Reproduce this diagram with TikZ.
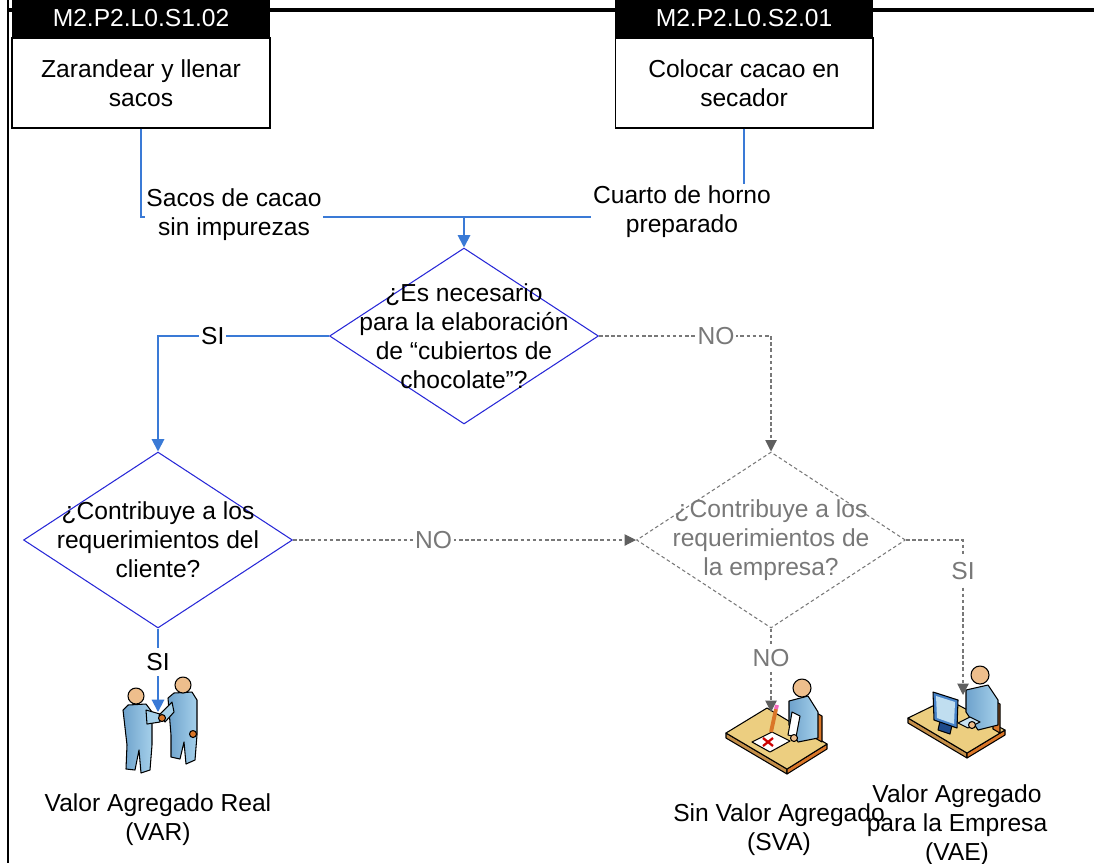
\documentclass[tikz,border=0pt]{standalone}
\usepackage{fontspec}
\setmainfont{Liberation Sans}
\usepackage{tikz}
\usetikzlibrary{positioning,arrows.meta,shapes,calc}

\definecolor{azul}{RGB}{58,122,214}
\definecolor{azulrombo}{RGB}{40,40,215}
\definecolor{gris}{RGB}{120,120,120}
\definecolor{grisosc}{RGB}{95,95,95}
\definecolor{piel}{RGB}{238,190,140}
\definecolor{ropa}{RGB}{165,208,234}
\definecolor{ropaosc}{RGB}{110,162,204}
\definecolor{mesa}{RGB}{236,206,128}
\definecolor{mesaosc}{RGB}{196,142,72}
\definecolor{naranja}{RGB}{218,118,40}
\definecolor{pantalla}{RGB}{70,130,200}
\definecolor{pie}{RGB}{30,75,140}

\tikzset{
  txt/.style={font=\fontsize{14}{16.5}\selectfont, align=center},
  cab/.style={txt, fill=black, text=white, minimum width=5.16cm, minimum height=0.76cm, inner sep=0pt},
  actividad/.style={txt, draw=black, line width=0.6pt, fill=white, minimum width=5.16cm, minimum height=1.8cm, inner sep=0pt},
  decision/.style={diamond, draw=azulrombo, line width=0.6pt, minimum width=5.38cm, minimum height=3.52cm, inner sep=0pt},
  decisiongris/.style={decision, draw=gris, dash pattern=on 2pt off 1.5pt},
  linea/.style={draw=azul, line width=1.1pt},
  flujo/.style={linea, -{Triangle[length=7pt,width=7pt]}},
  flujogris/.style={draw=gris, line width=0.6pt, dash pattern=on 2pt off 1.5pt, -{Triangle[length=6.5pt,width=6.5pt,color=grisosc]}},
  etiq/.style={txt, fill=white, inner sep=1pt},
  etiqgris/.style={etiq, text=gris},
  contorno/.style={draw=black, line width=0.6pt, line join=round},
  tela/.style={contorno, left color=ropaosc, right color=ropa},
}

\begin{document}
\begin{tikzpicture}[x=0.02cm, y=-0.02cm]
  \useasboundingbox (0,0) rectangle (1094,863);

  % Marco
  \draw[line width=1.5pt] (8,0) -- (8,863);
  \draw[line width=2pt] (8,10) -- (1094,10);

  % Actividades
  \node[actividad] (act1) at (141,83) {Zarandear y llenar\\sacos};
  \node[cab, above=0pt of act1] (act1cab) {M2.P2.L0.S1.02};
  \node[actividad] (act2) at (744,83) {Colocar cacao en\\secador};
  \node[cab, above=0pt of act2] (act2cab) {M2.P2.L0.S2.01};

  % Decisiones
  \node[decision] (d1) at (464,336) {};
  \node[txt] (d1t) at (d1) {¿Es necesario\\para la elaboración\\de “cubiertos de\\chocolate”?};
  \node[decision] (d2) at (158,540) {};
  \node[txt] (d2t) at (d2) {¿Contribuye a los\\requerimientos del\\cliente?};
  \node[decisiongris] (d3) at (771,540) {};
  \node[txt, text=gris] (d3t) at (d3) {¿Contribuye a los\\requerimientos de\\la empresa?};

  % Iconos: VAR (apreton de manos)
  \draw[tela] (123,710) -- (128,705) -- (146,704) -- (152,712) -- (152,745) -- (150,770) -- (141,773) -- (139,750) -- (135,770) -- (126,769) -- (127,745) -- cycle;
  \draw[contorno, fill=ropa] (146,710) -- (160,714) -- (160,722) -- (147,724) -- cycle;
  \draw[contorno, fill=piel] (136,696) circle (8);
  \draw[tela] (168,698) -- (174,693) -- (192,692) -- (197,700) -- (197,735) -- (195,760) -- (186,764) -- (184,742) -- (180,759) -- (171,757) -- (171,735) -- cycle;
  \draw[contorno, fill=ropa] (172,702) -- (174,712) -- (165,722) -- (159,715) -- cycle;
  \draw[contorno, fill=piel] (183,685) circle (8);
  \draw[contorno, fill=naranja] (162,718) circle (3.5);
  \draw[contorno, fill=naranja] (193,734) circle (3.5);

  % Iconos: SVA (escritorio con hoja tachada)
  \draw[contorno, fill=mesaosc] (726,733) -- (787,769) -- (787,774) -- (726,738) -- cycle;
  \draw[contorno, fill=naranja] (787,769) -- (827,744) -- (827,749) -- (787,774) -- cycle;
  \draw[contorno, fill=mesa] (726,733) -- (767,708) -- (827,744) -- (787,769) -- cycle;
  \draw[contorno, fill=naranja] (815,712) -- (822,716) -- (822,742) -- (815,738) -- cycle;
  \draw[tela] (789,701) -- (808,696) -- (818,712) -- (818,738) -- (798,742) -- (789,725) -- cycle;
  \draw[contorno, fill=white] (792,712) -- (800,716) -- (796,737) -- (788,735) -- cycle;
  \draw[contorno, fill=piel] (802,688) circle (9);
  \draw[contorno, fill=white] (752,742) -- (772,732) -- (790,741) -- (770,752) -- cycle;
  \draw[red!80!black, line width=1.3pt] (763,738) -- (773,746) (763,746) -- (773,738);
  \draw[naranja, line width=2.2pt] (776,709) -- (771,732);
  \draw[magenta!60, line width=2.2pt] (777,705) -- (776,709);
  \draw[contorno, fill=piel] (794,738) circle (3.5);

  % Iconos: VAE (escritorio con computadora)
  \draw[contorno, fill=mesaosc] (908,718) -- (967,753) -- (967,758) -- (908,723) -- cycle;
  \draw[contorno, fill=naranja] (967,753) -- (1005,730) -- (1005,735) -- (967,758) -- cycle;
  \draw[contorno, fill=mesa] (908,718) -- (947,699) -- (1005,730) -- (967,753) -- cycle;
  \draw[contorno, fill=naranja] (993,700) -- (1000,704) -- (1000,733) -- (993,729) -- cycle;
  \draw[tela] (966,690) -- (988,685) -- (998,700) -- (998,725) -- (978,730) -- (966,712) -- cycle;
  \draw[contorno, fill=piel] (980,675) circle (9);
  \draw[contorno, fill=ropa!60] (958,723) -- (970,717) -- (980,722) -- (968,728) -- cycle;
  \draw[contorno, fill=pie] (940,721) -- (952,725) -- (950,734) -- (938,730) -- cycle;
  \draw[contorno, fill=pantalla] (933,692) -- (958,700) -- (957,728) -- (934,720) -- cycle;
  \fill[ropa!70] (936,696) -- (955,702) -- (954,724) -- (937,718) -- cycle;
  \draw[contorno, fill=piel] (972,725) circle (3.5);

  % Puntos de llegada
  \coordinate (union) at (464,217);
  \coordinate (vartip) at (158,712);
  \coordinate (svatip) at (771,712);
  \coordinate (vaetip) at (963,695);

  % Conectores
  \draw[linea] (act1) |- (union);
  \draw[linea] (act2) |- (union);
  \draw[flujo] (union) -- (d1);
  \node[etiq] (entrada1) at (234,215) {Sacos de cacao\\sin impurezas};
  \node[etiq] (entrada2) at (682,212) {Cuarto de horno\\preparado};

  \draw[flujo] (d1.west) -| (d2.north) node[etiq, pos=0.34] {SI};
  \draw[flujogris] (d1.east) -| (d3.north) node[etiqgris, pos=0.34] {NO};
  \draw[flujogris] (d2.east) -- (d3.west) node[etiqgris, pos=0.41] {NO};
  \draw[flujo] (d2.south) -- (vartip) node[etiq, inner sep=3pt, pos=0.4] {SI};
  \draw[flujogris] (d3.south) -- (svatip) node[etiqgris, inner sep=3pt, pos=0.35] {NO};
  \draw[flujogris] (d3.east) -| (vaetip) node[etiqgris, inner sep=3pt, pos=0.6] {SI};

  % Resultados
  \node[txt] (var) at (158,820) {Valor Agregado Real\\(VAR)};
  \node[txt] (sva) at (779,830) {Sin Valor Agregado\\(SVA)};
  \node[txt] (vae) at (957,825) {Valor Agregado\\para la Empresa\\(VAE)};
\end{tikzpicture}
\end{document}
